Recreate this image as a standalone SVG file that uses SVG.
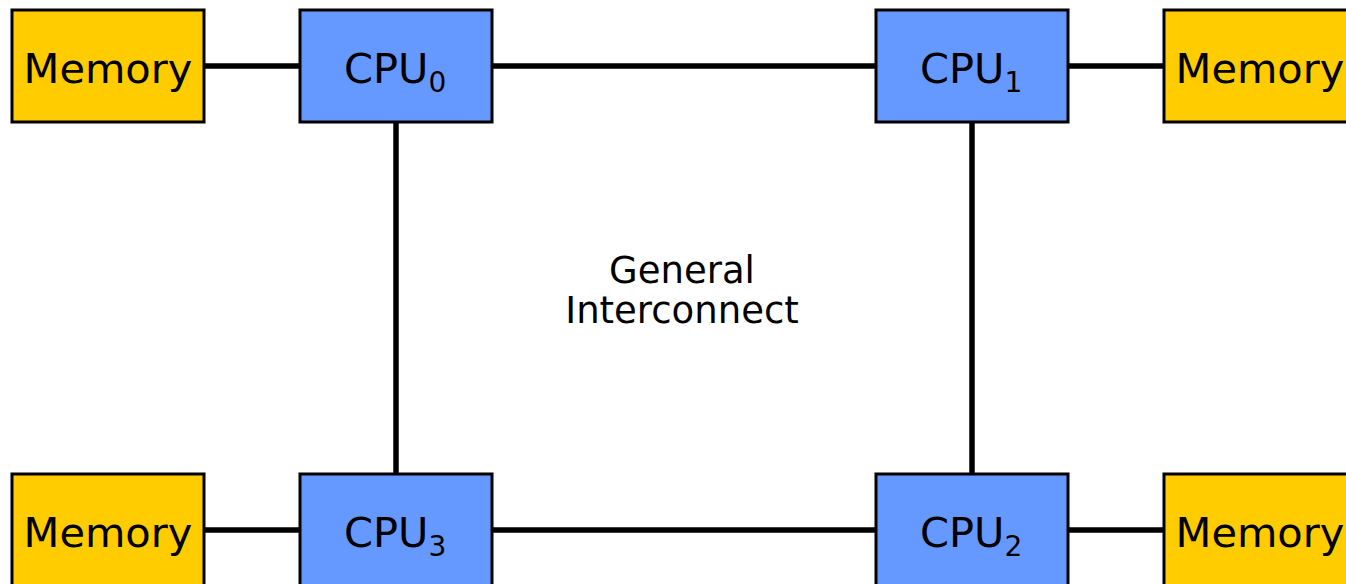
<svg xmlns="http://www.w3.org/2000/svg" width="1346" height="584" viewBox="0 0 1346 584">
<style>
.mem{fill:#FFCC00;stroke:#000;stroke-width:3}
.cpu{fill:#6699FF;stroke:#000;stroke-width:3}
.lbl{font-family:"DejaVu Sans",Verdana,sans-serif;font-size:41.5px;fill:#000}
.sub{font-size:28px}
.conn line{stroke:#000;stroke-width:5.5}
</style>
<rect width="1346" height="584" fill="#fff"/>
<g class="conn">
<line x1="204" y1="66" x2="300" y2="66"/>
<line x1="492" y1="66" x2="876" y2="66"/>
<line x1="1068" y1="66" x2="1164" y2="66"/>
<line x1="204" y1="530" x2="300" y2="530"/>
<line x1="492" y1="530" x2="876" y2="530"/>
<line x1="1068" y1="530" x2="1164" y2="530"/>
<line x1="396" y1="122" x2="396" y2="474"/>
<line x1="972" y1="122" x2="972" y2="474"/>
</g>
<g id="mem0"><rect class="mem" x="12" y="10" width="192" height="112"/><text class="lbl" x="108" y="83" text-anchor="middle">Memory</text></g>
<g id="cpu0"><rect class="cpu" x="300" y="10" width="192" height="112"/><text class="lbl" x="344" y="83">CPU<tspan class="sub" dy="9">0</tspan></text></g>
<g id="cpu1"><rect class="cpu" x="876" y="10" width="192" height="112"/><text class="lbl" x="920" y="83">CPU<tspan class="sub" dy="9">1</tspan></text></g>
<g id="mem1"><rect class="mem" x="1164" y="10" width="192" height="112"/><text class="lbl" x="1260" y="83" text-anchor="middle">Memory</text></g>
<g id="mem3"><rect class="mem" x="12" y="474" width="192" height="112"/><text class="lbl" x="108" y="547" text-anchor="middle">Memory</text></g>
<g id="cpu3"><rect class="cpu" x="300" y="474" width="192" height="112"/><text class="lbl" x="344" y="547">CPU<tspan class="sub" dy="9">3</tspan></text></g>
<g id="cpu2"><rect class="cpu" x="876" y="474" width="192" height="112"/><text class="lbl" x="920" y="547">CPU<tspan class="sub" dy="9">2</tspan></text></g>
<g id="mem2"><rect class="mem" x="1164" y="474" width="192" height="112"/><text class="lbl" x="1260" y="547" text-anchor="middle">Memory</text></g>
<g id="interconnect"><text class="lbl" style="font-size:37px" text-anchor="middle"><tspan x="682" y="283">General</tspan><tspan x="682" y="323">Interconnect</tspan></text></g>
</svg>
